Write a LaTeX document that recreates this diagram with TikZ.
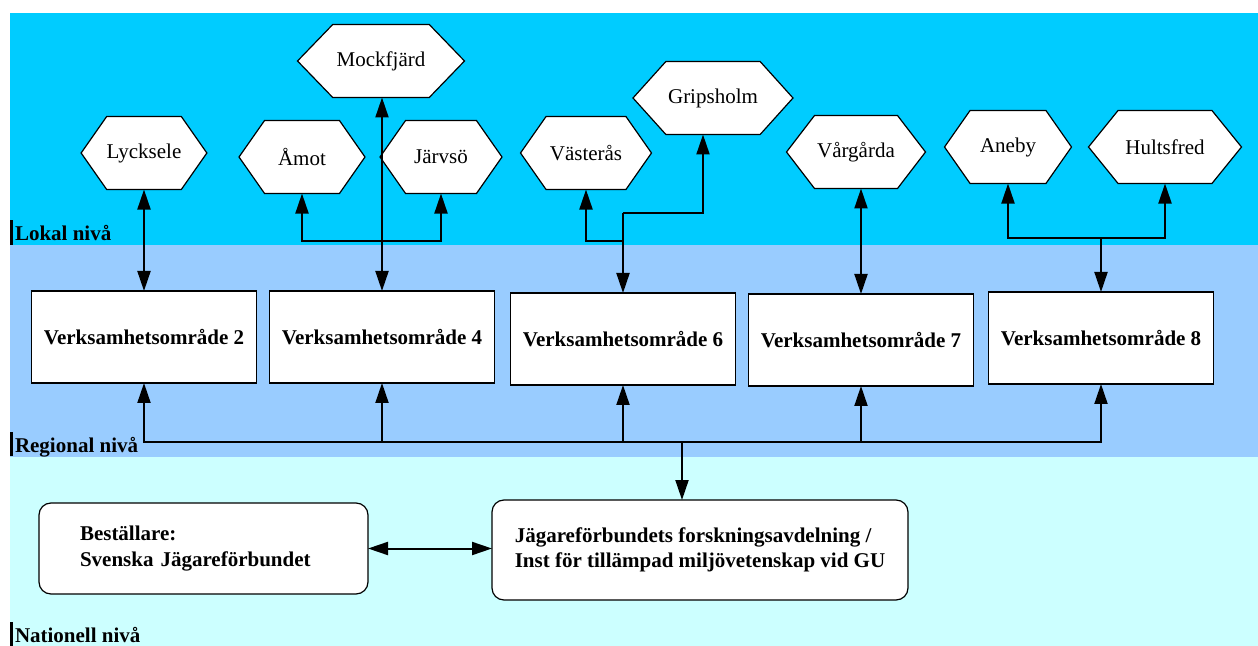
\documentclass[tikz,border=0pt]{standalone}
\usepackage{fontspec}
\setmainfont{Liberation Serif}
\usetikzlibrary{arrows.meta,shapes.symbols}

\definecolor{lokalfarg}{RGB}{0,204,255}
\definecolor{regionfarg}{RGB}{153,204,255}
\definecolor{natfarg}{RGB}{204,255,255}

\begin{document}
\begin{tikzpicture}[x=0.5pt, y=-0.5pt, outer sep=0pt, >={Triangle[length=10pt,width=6.5pt]}]

\tikzstyle{hexa}=[draw, line width=0.6pt, fill=white, shape=signal, signal to=west and east, signal pointer angle=110, minimum height=36.5pt, inner sep=0pt, font=\fontsize{10.5}{12}\selectfont]
\tikzstyle{omr}=[draw, line width=0.6pt, fill=white, rectangle, minimum width=112.5pt, minimum height=46pt, inner sep=0pt, font=\fontsize{10.5}{12}\selectfont\bfseries]
\tikzstyle{nat}=[draw, line width=0.6pt, fill=white, rectangle, rounded corners=6pt, align=left, font=\fontsize{10.5}{12.75}\selectfont\bfseries]
\tikzstyle{niva}=[anchor=base west, inner sep=0pt, font=\fontsize{10.5}{12}\selectfont\bfseries]
\tikzstyle{pil}=[line width=1pt]

% bakgrund
\useasboundingbox (0,0) rectangle (1258,646);
\fill[lokalfarg] (10,13) rectangle (1258,245);
\fill[regionfarg] (10,245) rectangle (1258,457);
\fill[natfarg] (10,457) rectangle (1258,646);

% nivåer
\fill (10,220) rectangle (13,245); \node[niva] (lokal) at (15,241) {Lokal nivå};
\fill (10,432) rectangle (13,456); \node[niva] (regional) at (15,452) {Regional nivå};
\fill (10,622) rectangle (13,646); \node[niva] (nationell) at (15,642) {Nationell nivå};

% lokala platser
\node[hexa, minimum width=62.5pt] (lyck) at (144,153) {Lycksele};
\node[hexa, minimum width=63pt] (amot) at (302,157) {Åmot};
\node[hexa, minimum width=61pt] (jarv) at (441,157) {Järvsö};
\node[hexa, minimum width=83.5pt, signal pointer angle=92] (mock) at (381,61) {Mockfjärd};
\node[hexa, minimum width=65.5pt] (vast) at (586,153) {Västerås};
\node[hexa, minimum width=80pt, signal pointer angle=96] (grip) at (713,98) {Gripsholm};
\node[hexa, minimum width=69.5pt, signal pointer angle=105] (varg) at (856,152) {Vårgårda};
\node[hexa, minimum width=63.5pt] (aneby) at (1008,147) {Aneby};
\node[hexa, minimum width=76.5pt, signal pointer angle=102] (hult) at (1165,147) {Hultsfred};

% verksamhetsområden
\node[omr] (omr2) at (144,337) {Verksamhetsområde 2};
\node[omr] (omr4) at (382,337) {Verksamhetsområde 4};
\node[omr] (omr6) at (623,339) {Verksamhetsområde 6};
\node[omr] (omr7) at (861,340) {Verksamhetsområde 7};
\node[omr] (omr8) at (1101,338) {Verksamhetsområde 8};

% nationell nivå
\node[nat, minimum width=164.5pt, minimum height=45.5pt, text width=123.5pt, inner xsep=20.5pt] (best) at (203.5,548.5) {Beställare:\\Svenska Jägareförbundet};
\node[nat, minimum width=208pt, minimum height=50pt] (jaeg) at (700,550) {Jägareförbundets forskningsavdelning /\\Inst för tillämpad miljövetenskap vid GU};

% pilar lokal - regional
\coordinate (j4) at (382,241);
\coordinate (j6) at (623,241);
\coordinate (j6b) at (623,213);
\coordinate (j8) at (1101,238);

\draw[pil,<->] (lyck) -- (omr2);
\draw[pil,<->] (omr4.north) -- (omr4.north |- mock.south);
\draw[pil,->] (j4) -| (amot);
\draw[pil,->] (j4) -| (jarv);
\draw[pil,->] (j6b) -- (omr6);
\draw[pil,->] (j6) -| (vast);
\draw[pil,->] (j6b) -| ([xshift=-5pt]grip.south);
\draw[pil,<->] (varg.south -| omr7.north) -- (omr7.north);
\draw[pil,->] (j8) -- (j8 |- omr8.north);
\draw[pil,->] (j8) -| (aneby);
\draw[pil,->] (j8) -| (hult);

% pilar regional - nationell
\coordinate (buss) at (682,442);
\foreach \n in {2,4,6,7,8}
  \draw[pil,->] (buss) -| (omr\n);
\draw[pil,->] (buss) -- (buss |- jaeg.north);
\draw[pil,<->] (best.east) -- (best.east -| jaeg.west);

\end{tikzpicture}
\end{document}
